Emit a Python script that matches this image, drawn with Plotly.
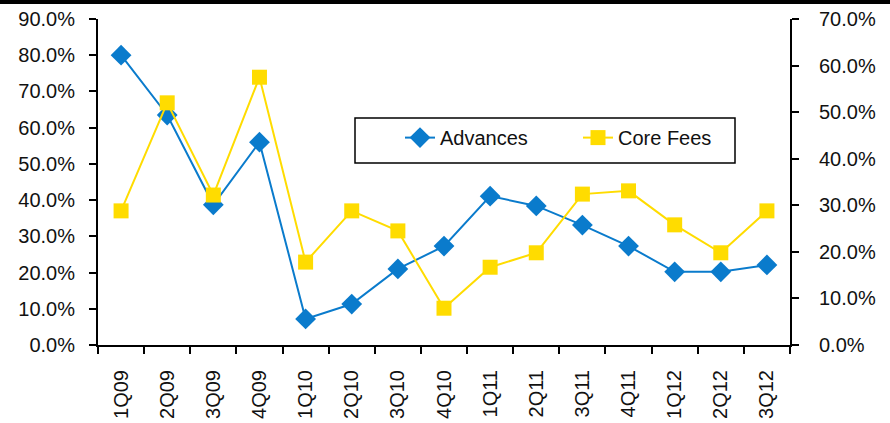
import plotly.graph_objects as go

quarters = ["1Q09", "2Q09", "3Q09", "4Q09", "1Q10", "2Q10", "3Q10", "4Q10",
            "1Q11", "2Q11", "3Q11", "4Q11", "1Q12", "2Q12", "3Q12"]
advances = [0.800, 0.635, 0.387, 0.560, 0.072, 0.113, 0.210, 0.273,
            0.411, 0.384, 0.331, 0.273, 0.202, 0.202, 0.221]
core_fees = [0.288, 0.520, 0.322, 0.575, 0.178, 0.288, 0.245, 0.079,
             0.167, 0.198, 0.324, 0.331, 0.258, 0.198, 0.288]

BLUE = "#0A7BCC"
YELLOW = "#FFDC00"
FONT = "Liberation Sans"

fig = go.Figure()
fig.add_trace(go.Scatter(
    x=quarters, y=advances, name="Advances", mode="lines+markers",
    line=dict(color=BLUE, width=2),
    marker=dict(symbol="diamond", size=16, color=BLUE),
    yaxis="y"))
fig.add_trace(go.Scatter(
    x=quarters, y=core_fees, name="Core Fees", mode="lines+markers",
    line=dict(color=YELLOW, width=2),
    marker=dict(symbol="square", size=15, color=YELLOW),
    yaxis="y2"))

axis_common = dict(showgrid=False, zeroline=False, showline=True,
                   linecolor="black", linewidth=2, ticks="outside",
                   ticklen=7, tickwidth=2, tickcolor="black",
                   automargin=False,
                   tickfont=dict(family=FONT, size=20, color="#111111"))

fig.update_layout(
    width=890, height=423,
    margin=dict(l=98, r=100, t=19, b=78),
    paper_bgcolor="white", plot_bgcolor="white",
    font=dict(family=FONT, size=20, color="#111111"),
    xaxis=dict(type="category", tickangle=-90, tickson="boundaries",
               range=[-0.5, 14.5], ticklabelstandoff=15, **axis_common),
    yaxis=dict(range=[0, 0.9], dtick=0.1, tickformat=".1%",
               ticklabelstandoff=10, **axis_common),
    yaxis2=dict(range=[0, 0.7], dtick=0.1, tickformat=".1%",
                overlaying="y", side="right", ticklabelstandoff=16,
                **axis_common),
    legend=dict(orientation="h", x=(400 - 98) / 692, y=0.696,
                xanchor="left", yanchor="top", borderwidth=0,
                bgcolor="rgba(0,0,0,0)", font=dict(family=FONT, size=20),
                entrywidth=133, entrywidthmode="pixels"),
    showlegend=True,
    shapes=[
        dict(type="line", xref="paper", yref="paper",
             x0=-0.2, x1=1.2, y0=1 + 17 / 326, y1=1 + 17 / 326,
             line=dict(color="black", width=4)),
        dict(type="rect", xref="paper", yref="paper",
             x0=(355 - 98) / 692, x1=(735 - 98) / 692,
             y0=(345 - 163) / 326, y1=(345 - 118) / 326,
             line=dict(color="black", width=1.5)),
    ],
)

fig.write_html("out.html")
